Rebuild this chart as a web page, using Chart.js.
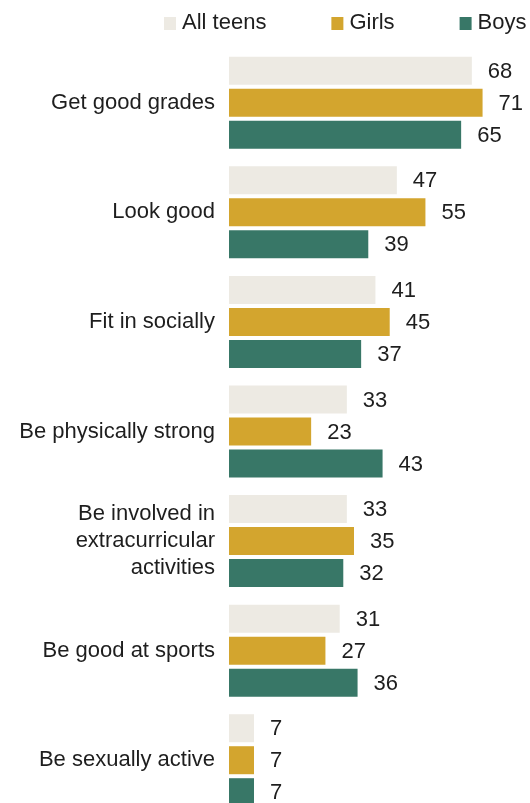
<!DOCTYPE html>
<html>
<head>
<meta charset="utf-8">
<script src="https://cdn.jsdelivr.net/npm/chart.js@4.4.1/dist/chart.umd.min.js"></script>
<style>
  html, body { margin: 0; padding: 0; background: #ffffff; overflow: hidden; }
  #wrap { position: relative; width: 530px; height: 815px; }
</style>
</head>
<body>
<div id="wrap"><canvas id="chart" width="530" height="815"></canvas></div>
<script>
// Categories (multi-line labels as arrays)
const categories = [
  "Get good grades",
  "Look good",
  "Fit in socially",
  "Be physically strong",
  ["Be involved in", "extracurricular", "activities"],
  "Be good at sports",
  "Be sexually active"
];

// Series values (%)
const allTeens = [68, 47, 41, 33, 33, 31, 7];
const girls    = [71, 55, 45, 23, 35, 27, 7];
const boys     = [65, 39, 37, 43, 32, 36, 7];

const seriesNames = ["All teens", "Girls", "Boys"];
const seriesColors = ["#EDEAE3", "#D3A52E", "#387767"];

const FONT = "'Liberation Sans', Arial, sans-serif";
const TEXT = "#1e1e1e";

// Legend drawn across the top
const topLegend = {
  id: 'topLegend',
  afterDraw(chart) {
    const ctx = chart.ctx;
    ctx.save();
    ctx.font = "22px " + FONT;
    ctx.textBaseline = 'middle';
    ctx.textAlign = 'left';
    let x = 164;
    const y = 23;
    chart.data.datasets.forEach(ds => {
      ctx.fillStyle = ds.backgroundColor;
      ctx.fillRect(x, y - 6, 12, 13);
      ctx.fillStyle = TEXT;
      ctx.fillText(ds.label, x + 18, y);
      x += 18 + ctx.measureText(ds.label).width + 65;
    });
    ctx.restore();
  }
};

// Value labels at the end of each bar
const valueLabels = {
  id: 'valueLabels',
  afterDatasetsDraw(chart) {
    const ctx = chart.ctx;
    ctx.save();
    ctx.font = "22px " + FONT;
    ctx.fillStyle = TEXT;
    ctx.textBaseline = 'middle';
    ctx.textAlign = 'left';
    chart.data.datasets.forEach((ds, i) => {
      const meta = chart.getDatasetMeta(i);
      meta.data.forEach((bar, j) => {
        ctx.fillText(String(ds.data[j]), bar.x + 16, bar.y + 1);
      });
    });
    ctx.restore();
  }
};

new Chart(document.getElementById('chart'), {
  type: 'bar',
  data: {
    labels: categories,
    datasets: [
      { label: seriesNames[0], data: allTeens, backgroundColor: seriesColors[0] },
      { label: seriesNames[1], data: girls,    backgroundColor: seriesColors[1] },
      { label: seriesNames[2], data: boys,     backgroundColor: seriesColors[2] }
    ]
  },
  options: {
    indexAxis: 'y',
    responsive: false,
    animation: false,
    devicePixelRatio: 1,
    layout: { padding: { top: 48, right: 1, bottom: 0, left: 0 } },
    datasets: {
      bar: { categoryPercentage: 0.876, barPercentage: 0.875 }
    },
    plugins: {
      legend: { display: false },
      tooltip: { enabled: false }
    },
    scales: {
      x: {
        display: false,
        min: 0,
        max: 84
      },
      y: {
        grid: { display: false, drawTicks: false },
        border: { display: false },
        ticks: {
          padding: 14,
          color: TEXT,
          font: { family: FONT, size: 22, lineHeight: 1.22 }
        },
        afterFit(scale) {
          scale.width = 229;
          scale.paddingTop = 0;
          scale.paddingBottom = 0;
        }
      }
    }
  },
  plugins: [topLegend, valueLabels]
});
</script>
</body>
</html>
